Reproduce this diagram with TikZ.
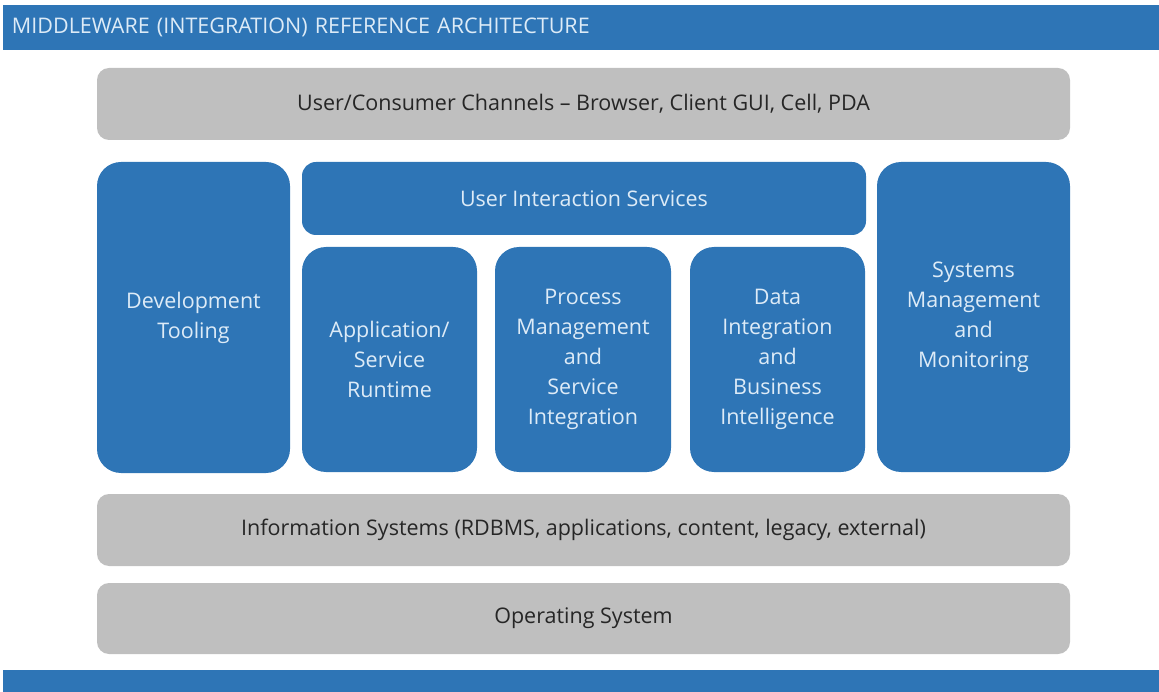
\documentclass[tikz,border=0pt]{standalone}
\usepackage{fontspec}
\setmainfont{Open Sans}
\usetikzlibrary{positioning}
\definecolor{mwblue}{HTML}{2E75B6}
\definecolor{mwgray}{HTML}{BFBFBF}
\definecolor{mwtext}{HTML}{DDEBF7}
\definecolor{mwdark}{HTML}{262626}

\begin{document}
\begin{tikzpicture}[x=1pt, y=-1pt,
    bluebox/.style={fill=mwblue, text=mwtext, rounded corners=24pt, align=center, outer sep=0pt, inner sep=4pt, font=\fontsize{21.5}{30}\selectfont},
    graybox/.style={fill=mwgray, text=mwdark, rounded corners=12pt, minimum width=973pt, minimum height=72pt, outer sep=0pt, font=\fontsize{21.5}{25}\selectfont}]
    \useasboundingbox (0,0) rectangle (1159,692);
    \node[fill=mwblue, text=mwtext, anchor=west, minimum width=1156pt, minimum height=45pt, text width=1138pt, align=left, inner sep=9pt, outer sep=0pt, font=\fontsize{21.5}{24}\selectfont] (title) at (3,27.5) {MIDDLEWARE (INTEGRATION) REFERENCE ARCHITECTURE};
    \fill[mwblue] (3,670) rectangle (1159,692);

    \node[graybox] (channels) at (583.5,104) {User/Consumer Channels -- Browser, Client GUI, Cell, PDA};

    \node[bluebox, minimum width=193pt, minimum height=311pt] (devtool) at (193.5,317.5) {Development\\Tooling};
    \node[bluebox, minimum width=564pt, minimum height=73pt, rounded corners=14pt] (uis) at (584,198.5) {User Interaction Services};
    \node[bluebox, minimum width=193pt, minimum height=310pt] (sysmgmt) at (973.5,317) {Systems\\Management\\and\\Monitoring};

    \node[bluebox, minimum width=175pt, minimum height=225pt] (apprt) at (389.5,359.5) {Application/\\Service\\Runtime};
    \node[bluebox, minimum width=176pt, minimum height=225pt] (procmgmt) at (583,359.5) {Process\\Management\\and\\Service\\Integration};
    \node[bluebox, minimum width=175pt, minimum height=225pt] (dataint) at (777.5,359.5) {Data\\Integration\\and\\Business\\Intelligence};

    \node[graybox] (infosys) at (583.5,530) {Information Systems (RDBMS, applications, content, legacy, external)};
    \node[graybox, minimum height=71pt] (opsys) at (583.5,618.5) {Operating System};
\end{tikzpicture}
\end{document}
